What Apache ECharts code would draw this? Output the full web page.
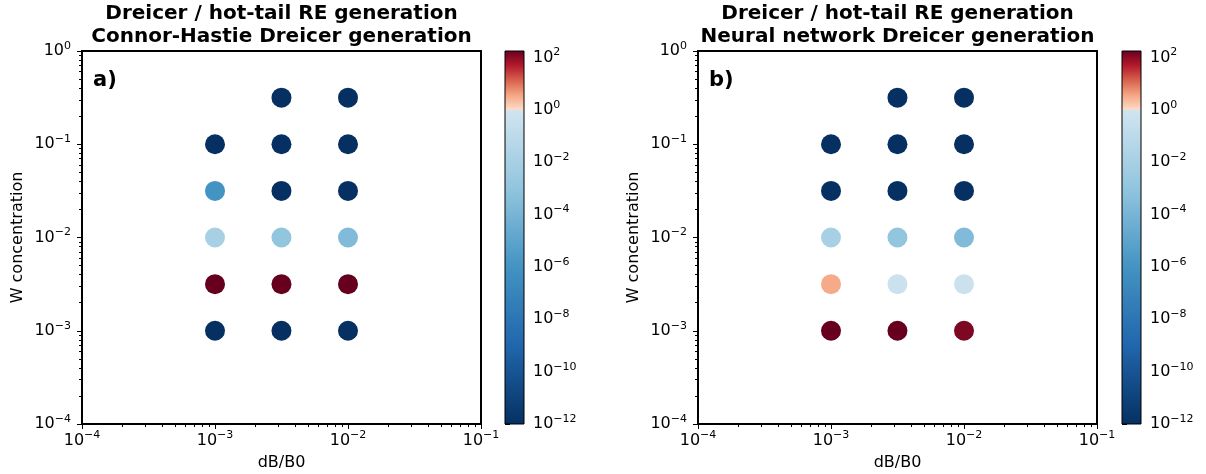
<!DOCTYPE html>
<html>
<head>
<meta charset="utf-8">
<script src="https://cdn.jsdelivr.net/npm/echarts@6/dist/echarts.min.js"></script>
<style>
html, body { margin: 0; padding: 0; background: #fff; }
#main { width: 1206px; height: 474px; }
</style>
</head>
<body>
<div id="main"></div>
<script>
// scan grid: perturbation amplitude (columns) and tungsten concentration (rows)
var dBB0 = [1e-3, 3.16e-3, 1e-2];
var wConc = [1e-3, 3.16e-3, 1e-2, 3.16e-2, 1e-1, 3.16e-1];

// runaway generation, rows follow wConc, columns follow dBB0 (null = not simulated)
var rateCH = [
  [1e-13, 1e-13, 1e-13],
  [1e3, 1e3, 1e3],
  [1e-2, 1e-3, 2.5e-4],
  [1e-6, 1e-13, 1e-13],
  [1e-13, 1e-13, 1e-13],
  [null, 1e-13, 1e-13]
];
var rateNN = [
  [1e3, 1e3, 1.2e2],
  [3.2, 0.5, 0.5],
  [1e-2, 1e-3, 2.5e-4],
  [1e-13, 1e-13, 1e-13],
  [1e-13, 1e-13, 1e-13],
  [null, 1e-13, 1e-13]
];

var titleCH = 'Dreicer / hot-tail RE generation\nConnor-Hastie Dreicer generation';
var titleNN = 'Dreicer / hot-tail RE generation\nNeural network Dreicer generation';

// axis ticks (log10 of value)
var xTicks = [-4, -3, -2, -1];
var yTicks = [-4, -3, -2, -1, 0];
var cbTicks = [-12, -10, -8, -6, -4, -2, 0, 2];
var cbMin = -12, cbMax = 2.25;
var minorMult = [2, 3, 4, 5, 6, 7, 8, 9];

function minorFor(from, to) {
  var out = [];
  for (var d = from; d < to; d++) {
    minorMult.forEach(function (m) { out.push(d + Math.log10(m)); });
  }
  return out;
}

// RdBu_r
var RdBu_r = ['#053061', '#2166ac', '#4393c3', '#92c5de', '#d1e5f0', '#f7f7f7',
  '#fddbc7', '#f4a582', '#d6604d', '#b2182b', '#67001f'];

function hexRgb(h) {
  return [parseInt(h.substr(1, 2), 16), parseInt(h.substr(3, 2), 16), parseInt(h.substr(5, 2), 16)];
}
function cmap(t) {
  t = Math.max(0, Math.min(1, t));
  var p = t * 10, i = Math.min(9, Math.floor(p)), f = p - i;
  var a = hexRgb(RdBu_r[i]), b = hexRgb(RdBu_r[i + 1]);
  var c = a.map(function (v, k) { return Math.round(v + (b[k] - v) * f); });
  return 'rgb(' + c.join(',') + ')';
}
// two slopes: blue half below 1, red half above 1
function norm(L) {
  if (L <= 0) return 0.4 * (Math.max(L, cbMin) - cbMin) / (0 - cbMin);
  return 0.6 + 0.4 * Math.min(L, cbMax) / cbMax;
}

var stops = [];
var span = cbMax - cbMin;
for (var L = cbMax; L > 0; L -= 0.125) stops.push({offset: (cbMax - L) / span, color: cmap(norm(L))});
stops.push({offset: cbMax / span, color: cmap(0.6)});
stops.push({offset: cbMax / span, color: cmap(norm(0))});
for (var L2 = -0.25; L2 >= cbMin; L2 -= 0.25) stops.push({offset: (cbMax - L2) / span, color: cmap(norm(L2))});

function toPoints(rate) {
  var pts = [];
  wConc.forEach(function (w, r) {
    dBB0.forEach(function (x, c) {
      if (rate[r][c] != null) pts.push([Math.log10(x), Math.log10(w), Math.log10(rate[r][c])]);
    });
  });
  return pts;
}

var FONT = 'DejaVu Sans';
function sci(v) {
  var e = Math.round(v);
  return '{b|10}{s|' + (e < 0 ? '\u2212' + (-e) : e) + '}';
}
var rich = {
  b: {fontSize: 16, fontFamily: FONT, color: '#000'},
  s: {fontSize: 11, fontFamily: FONT, color: '#000', padding: [0, 0, 10, 0]}
};
var nameStyle = {fontSize: 16, fontFamily: FONT, color: '#000'};
var tickLine = {color: '#000', width: 1};

var panels = [
  {left: 82, cbLeft: 505, title: titleCH, tag: 'a)', rate: rateCH},
  {left: 698, cbLeft: 1122, title: titleNN, tag: 'b)', rate: rateNN}
];
var gridW = 399, gridTop = 51, gridH = 373;

var grid = [], xAxis = [], yAxis = [], series = [], graphic = [];

panels.forEach(function (p) {
  grid.push({left: p.left, top: gridTop, width: gridW, height: gridH, show: true,
    borderColor: '#000', borderWidth: 2, outerBoundsMode: 'none'});
  var g = grid.length - 1;
  // main axes
  xAxis.push({gridIndex: g, type: 'value', min: -4, max: -1, interval: 1, position: 'bottom',
    name: 'dB/B0', nameLocation: 'middle', nameGap: 31, nameTextStyle: nameStyle,
    axisLine: {onZero: false, lineStyle: {color: '#000', width: 2}},
    axisTick: {customValues: xTicks, length: 5, lineStyle: tickLine},
    axisLabel: {customValues: xTicks, margin: 6, formatter: sci, rich: rich},
    splitLine: {show: false}});
  yAxis.push({gridIndex: g, type: 'value', min: -4, max: 0, interval: 1, position: 'left',
    name: 'W concentration', nameLocation: 'middle', nameGap: 56, nameTextStyle: nameStyle,
    axisLine: {onZero: false, lineStyle: {color: '#000', width: 2}},
    axisTick: {customValues: yTicks, length: 5, lineStyle: tickLine},
    axisLabel: {customValues: yTicks, margin: 11, formatter: sci, rich: rich},
    splitLine: {show: false}});
  // minor tick axes
  xAxis.push({gridIndex: g, type: 'value', min: -4, max: -1, position: 'bottom',
    axisLine: {show: false, onZero: false},
    axisTick: {customValues: minorFor(-4, -1), length: 3, lineStyle: tickLine},
    axisLabel: {show: false}, splitLine: {show: false}});
  yAxis.push({gridIndex: g, type: 'value', min: -4, max: 0, position: 'left',
    axisLine: {show: false, onZero: false},
    axisTick: {customValues: minorFor(-4, 0), length: 3, lineStyle: tickLine},
    axisLabel: {show: false}, splitLine: {show: false}});

  series.push({type: 'scatter', xAxisIndex: xAxis.length - 2, yAxisIndex: yAxis.length - 2,
    symbolSize: 20, data: toPoints(p.rate), silent: true,
    itemStyle: {opacity: 1, color: function (d) { return cmap(norm(d.value[2])); }}});

  graphic.push({type: 'text', x: p.left + gridW / 2, y: 2,
    style: {text: p.title, align: 'center', verticalAlign: 'top', fill: '#000',
      font: 'bold 20px "DejaVu Sans"', lineHeight: 23}});
  graphic.push({type: 'text', x: p.left + 11, y: 70,
    style: {text: p.tag, align: 'left', verticalAlign: 'top', fill: '#000',
      font: 'bold 21px "DejaVu Sans"'}});
});

// colorbars
panels.forEach(function (p) {
  grid.push({left: p.cbLeft, top: gridTop, width: 19, height: gridH, outerBoundsMode: 'none'});
  var g = grid.length - 1;
  xAxis.push({gridIndex: g, type: 'value', min: 0, max: 1, show: false});
  yAxis.push({gridIndex: g, type: 'value', min: cbMin, max: cbMax, position: 'right',
    axisLine: {show: false},
    axisTick: {customValues: cbTicks, length: 5, lineStyle: tickLine},
    axisLabel: {customValues: cbTicks, margin: 9, formatter: sci, rich: rich},
    splitLine: {show: false}});
  series.push({type: 'custom', xAxisIndex: xAxis.length - 1, yAxisIndex: yAxis.length - 1,
    silent: true, clip: false, data: [[0, 0]],
    renderItem: function (params, api) {
      var a = api.coord([0, cbMax]), b = api.coord([1, cbMin]);
      return {type: 'rect', shape: {x: a[0], y: a[1], width: b[0] - a[0], height: b[1] - a[1]},
        style: {fill: new echarts.graphic.LinearGradient(0, 0, 0, 1, stops), stroke: '#000', lineWidth: 1}};
    }});
});

var chart = echarts.init(document.getElementById('main'), null, {renderer: 'canvas'});
chart.setOption({
  backgroundColor: '#fff',
  animation: false,
  grid: grid, xAxis: xAxis, yAxis: yAxis, series: series, graphic: graphic
});
</script>
</body>
</html>
